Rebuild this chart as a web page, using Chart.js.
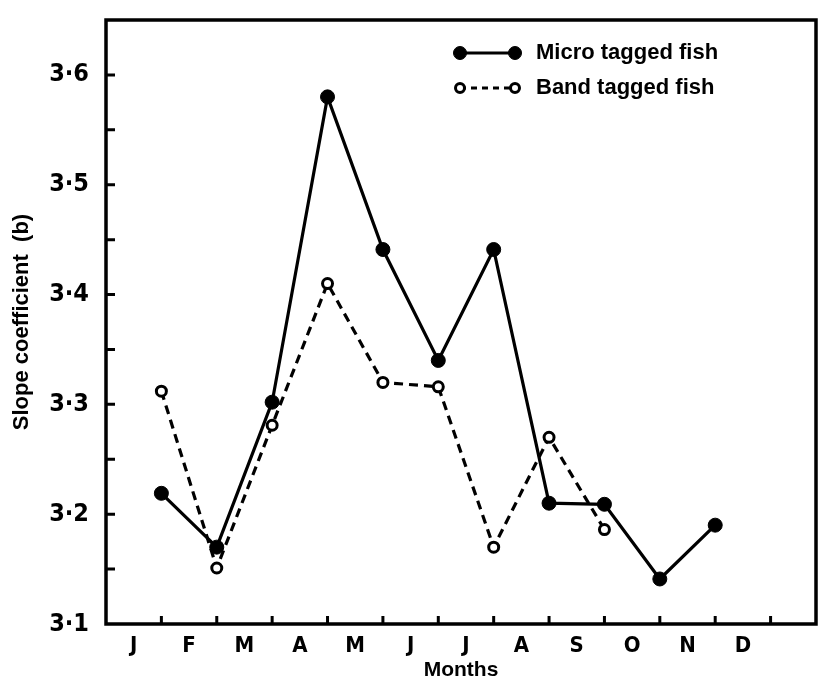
<!DOCTYPE html>
<html>
<head>
<meta charset="utf-8">
<script src="https://cdn.jsdelivr.net/npm/chart.js@4"></script>
<style>
html,body{margin:0;padding:0;background:#fff;}
#wrap{width:824px;height:683px;}
</style>
</head>
<body>
<div id="wrap"><canvas id="c" width="824" height="683"></canvas></div>
<script>
const months = ['J','F','M','A','M','J','J','A','S','O','N','D'];
const microPositions = [1,2,3,4,5,6,7,8,9,10,11];
const microTagged = [3.219, 3.170, 3.302, 3.580, 3.441, 3.340, 3.441, 3.210, 3.209, 3.141, 3.190];
const bandPositions = [1,2,3,4,5,6,7,8,9];
const bandTagged = [3.312, 3.151, 3.281, 3.410, 3.320, 3.316, 3.170, 3.270, 3.186];
const yLabelValues = [3.1, 3.2, 3.3, 3.4, 3.5, 3.6];
const yTickMarks = [3.15, 3.2, 3.25, 3.3, 3.35, 3.4, 3.45, 3.5, 3.55, 3.6];
const xTickMarks = [1,2,3,4,5,6,7,8,9,10,11,12];
const seriesNames = ['Micro tagged fish', 'Band tagged fish'];

const tickFont = "'DejaVu Sans Condensed', 'DejaVu Sans', sans-serif";
const boldFont = "'Liberation Sans', Arial, sans-serif";

const framePlugin = {
  id: 'frame',
  afterDatasetsDraw(chart) {
    const {ctx, chartArea: a, scales} = chart;
    ctx.save();
    ctx.strokeStyle = '#000';
    ctx.lineWidth = 3.5;
    ctx.strokeRect(a.left, a.top, a.right - a.left, a.bottom - a.top);
    ctx.lineWidth = 3;
    ctx.beginPath();
    xTickMarks.forEach(v => {
      const x = scales.x.getPixelForValue(v);
      ctx.moveTo(x, a.bottom); ctx.lineTo(x, a.bottom - 8);
    });
    yTickMarks.forEach(v => {
      const y = scales.y.getPixelForValue(v);
      ctx.moveTo(a.left, y); ctx.lineTo(a.left + 9, y);
    });
    ctx.stroke();
    // legend
    const ds = chart.data.datasets;
    const lx0 = 460, lx1 = 515, tx = 536, ys = [53, 88];
    ds.forEach((d, i) => {
      const y = ys[i];
      ctx.beginPath();
      ctx.setLineDash(i === 0 ? [] : [6, 5]);
      ctx.lineWidth = d.borderWidth;
      ctx.strokeStyle = d.borderColor;
      ctx.moveTo(lx0, y); ctx.lineTo(lx1, y);
      ctx.stroke();
      ctx.setLineDash([]);
      [lx0, lx1].forEach(px => {
        ctx.beginPath();
        ctx.arc(px, y, i === 0 ? 6.5 : 4.5, 0, Math.PI * 2);
        ctx.fillStyle = d.pointBackgroundColor;
        ctx.fill();
        ctx.lineWidth = d.pointBorderWidth;
        ctx.strokeStyle = d.pointBorderColor;
        ctx.stroke();
      });
      ctx.fillStyle = '#000';
      ctx.font = "bold 22px " + boldFont;
      ctx.textAlign = 'left';
      ctx.textBaseline = 'middle';
      ctx.fillText(d.label, tx, y);
    });
    ctx.restore();
  }
};

new Chart(document.getElementById('c'), {
  type: 'line',
  data: {
    datasets: [
      {
        label: seriesNames[0],
        data: microTagged.map((v, i) => ({x: microPositions[i], y: v})),
        borderColor: '#000',
        borderWidth: 3.2,
        pointRadius: 7,
        pointBackgroundColor: '#000',
        pointBorderColor: '#000',
        pointBorderWidth: 1,
        tension: 0
      },
      {
        label: seriesNames[1],
        data: bandTagged.map((v, i) => ({x: bandPositions[i], y: v})),
        borderColor: '#000',
        borderWidth: 3.2,
        borderDash: [9, 6],
        pointRadius: 5,
        pointBackgroundColor: '#fff',
        pointBorderColor: '#000',
        pointBorderWidth: 3,
        tension: 0
      }
    ]
  },
  options: {
    responsive: false,
    animation: false,
    layout: {padding: {top: 20, right: 5, left: 0, bottom: 0}},
    plugins: {legend: {display: false}, tooltip: {enabled: false}},
    scales: {
      x: {
        type: 'linear',
        min: 0,
        max: 12.82,
        grid: {display: false, drawTicks: false},
        border: {display: false},
        afterBuildTicks: s => { s.ticks = months.map((m, i) => ({value: i + 0.5})); },
        afterFit: s => { s.height = 59; s.paddingLeft = 0; s.paddingRight = 0; },
        ticks: {
          autoSkip: false,
          maxRotation: 0,
          padding: 9,
          color: '#000',
          font: {family: tickFont, size: 22, weight: 'bold'},
          callback: v => months[Math.round(v - 0.5)]
        },
        title: {
          display: true,
          text: 'Months',
          color: '#000',
          font: {family: boldFont, size: 21, weight: 'bold'},
          padding: {top: 0, bottom: 0}
        }
      },
      y: {
        min: 3.1,
        max: 3.65,
        grid: {display: false, drawTicks: false},
        border: {display: false},
        afterBuildTicks: s => { s.ticks = yLabelValues.map(v => ({value: v})); },
        afterFit: s => { s.width = 106; s.paddingTop = 0; s.paddingBottom = 0; },
        ticks: {
          padding: 17,
          color: '#000',
          font: {family: tickFont, size: 25, weight: 'bold'},
          callback: v => v.toFixed(1).replace('.', '·')
        },
        title: {
          display: true,
          text: 'Slope coefficient  (b)',
          color: '#000',
          font: {family: boldFont, size: 22, weight: 'bold'},
          padding: {top: 9, bottom: 0}
        }
      }
    }
  },
  plugins: [framePlugin]
});
</script>
</body>
</html>
